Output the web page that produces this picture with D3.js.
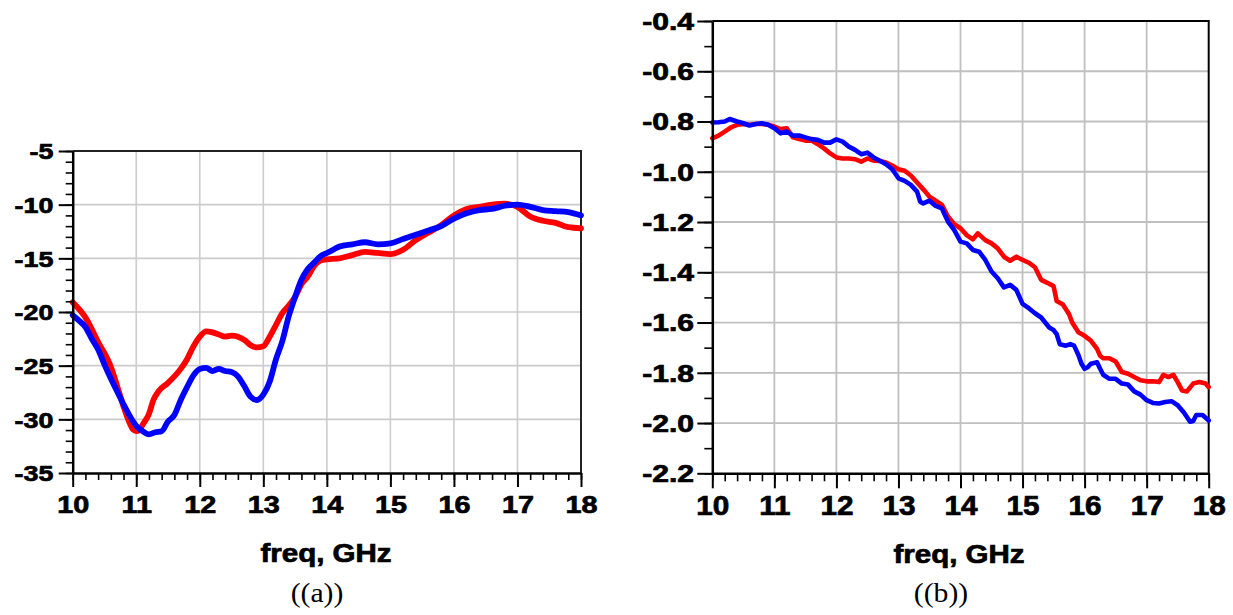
<!DOCTYPE html>
<html>
<head>
<meta charset="utf-8">
<script src="https://cdn.jsdelivr.net/npm/d3@7"></script>
<style>
  body { margin: 0; background: #fff; }
  svg text { font-family: "Liberation Sans", Arial, sans-serif; font-weight: bold; fill: #000; stroke: #000; stroke-width: 0.7px; }
  svg text.caption { font-family: "Liberation Serif", "DejaVu Serif", serif; font-weight: normal; stroke: none; }
</style>
</head>
<body>
<svg id="fig" width="1233" height="615"></svg>
<script>
// ---- panel (a): return loss, dB ----
const aRedFreq = [10.0, 10.2, 10.4, 10.6, 10.7, 10.8, 10.9, 10.95, 11.0, 11.05, 11.1, 11.2, 11.27, 11.35, 11.5, 11.6, 11.7, 11.8, 11.9, 12.0, 12.1, 12.2, 12.3, 12.4, 12.5, 12.6, 12.7, 12.8, 12.9, 13.0, 13.1, 13.2, 13.3, 13.4, 13.5, 13.6, 13.7, 13.8, 13.9, 14.0, 14.2, 14.4, 14.6, 14.8, 15.0, 15.2, 15.4, 15.6, 15.8, 16.0, 16.2, 16.4, 16.6, 16.8, 17.0, 17.2, 17.4, 17.6, 17.8, 18.0];
const aRedVal  = [-19.1, -20.5, -22.8, -25.1, -26.9, -28.8, -30.4, -30.95, -31.1, -31.0, -30.5, -29.5, -28.2, -27.4, -26.6, -26.0, -25.3, -24.4, -23.2, -22.3, -21.8, -21.9, -22.1, -22.3, -22.2, -22.3, -22.6, -23.1, -23.3, -23.2, -22.3, -21.2, -20.1, -19.4, -18.6, -17.4, -16.7, -15.7, -15.2, -15.1, -15.0, -14.7, -14.4, -14.5, -14.6, -14.2, -13.3, -12.6, -11.9, -11.0, -10.4, -10.2, -10.0, -9.9, -10.2, -11.1, -11.5, -11.7, -12.1, -12.2];
const aBlueFreq = [10.0, 10.1, 10.2, 10.3, 10.4, 10.5, 10.6, 10.7, 10.8, 10.9, 11.0, 11.1, 11.2, 11.3, 11.4, 11.5, 11.6, 11.7, 11.8, 11.9, 12.0, 12.1, 12.2, 12.3, 12.4, 12.5, 12.6, 12.7, 12.8, 12.9, 13.0, 13.1, 13.2, 13.3, 13.4, 13.5, 13.6, 13.7, 13.8, 13.9, 14.0, 14.1, 14.2, 14.4, 14.6, 14.8, 15.0, 15.2, 15.4, 15.6, 15.8, 16.0, 16.2, 16.4, 16.6, 16.8, 17.0, 17.2, 17.4, 17.6, 17.8, 18.0];
const aBlueVal  = [-20.3, -20.8, -21.4, -22.5, -23.5, -24.9, -26.2, -27.4, -28.6, -29.7, -30.6, -31.1, -31.4, -31.2, -31.1, -30.2, -29.6, -28.2, -27.0, -25.9, -25.3, -25.2, -25.5, -25.3, -25.5, -25.6, -26.0, -26.9, -27.9, -28.2, -27.7, -26.5, -24.4, -22.7, -20.4, -18.6, -17.0, -16.0, -15.4, -14.8, -14.5, -14.2, -13.9, -13.7, -13.5, -13.7, -13.6, -13.2, -12.8, -12.4, -12.0, -11.3, -10.8, -10.5, -10.4, -10.1, -10.0, -10.2, -10.5, -10.6, -10.7, -11.0];
const aYTicks = [-35, -30, -25, -20, -15, -10, -5];

// ---- panel (b): insertion loss, dB ----
const bRedFreq = [10.0, 10.1, 10.2, 10.3, 10.4, 10.5, 10.6, 10.7, 10.8, 10.9, 11.0, 11.1, 11.2, 11.3, 11.4, 11.5, 11.6, 11.7, 11.8, 11.9, 12.0, 12.1, 12.2, 12.3, 12.4, 12.5, 12.6, 12.7, 12.8, 12.9, 13.0, 13.1, 13.2, 13.3, 13.4, 13.5, 13.6, 13.7, 13.8, 13.9, 14.0, 14.1, 14.2, 14.28, 14.4, 14.5, 14.6, 14.7, 14.8, 14.9, 15.0, 15.1, 15.2, 15.3, 15.4, 15.5, 15.55, 15.65, 15.75, 15.8, 15.9, 16.0, 16.1, 16.2, 16.25, 16.3, 16.4, 16.5, 16.6, 16.7, 16.8, 16.9, 17.0, 17.1, 17.2, 17.27, 17.35, 17.43, 17.5, 17.57, 17.65, 17.75, 17.85, 17.95, 18.0];
const bRedVal  = [-0.867, -0.856, -0.84, -0.823, -0.813, -0.81, -0.813, -0.81, -0.81, -0.813, -0.82, -0.83, -0.827, -0.863, -0.87, -0.876, -0.876, -0.89, -0.907, -0.927, -0.943, -0.947, -0.947, -0.95, -0.96, -0.947, -0.956, -0.957, -0.963, -0.975, -0.99, -0.996, -1.015, -1.043, -1.07, -1.099, -1.115, -1.132, -1.179, -1.209, -1.225, -1.252, -1.269, -1.245, -1.272, -1.285, -1.305, -1.338, -1.354, -1.338, -1.351, -1.362, -1.38, -1.43, -1.442, -1.455, -1.514, -1.528, -1.567, -1.6, -1.639, -1.653, -1.672, -1.705, -1.732, -1.742, -1.742, -1.755, -1.797, -1.804, -1.817, -1.83, -1.834, -1.834, -1.837, -1.808, -1.817, -1.808, -1.837, -1.87, -1.874, -1.843, -1.837, -1.843, -1.857];
const bBlueFreq = [10.0, 10.1, 10.2, 10.28, 10.4, 10.5, 10.6, 10.7, 10.8, 10.9, 11.0, 11.1, 11.2, 11.3, 11.4, 11.5, 11.6, 11.7, 11.8, 11.9, 12.0, 12.1, 12.2, 12.3, 12.4, 12.5, 12.6, 12.7, 12.8, 12.9, 13.0, 13.1, 13.2, 13.3, 13.35, 13.4, 13.5, 13.6, 13.7, 13.8, 13.9, 14.0, 14.1, 14.2, 14.3, 14.4, 14.5, 14.6, 14.7, 14.8, 14.9, 15.0, 15.1, 15.2, 15.3, 15.43, 15.5, 15.55, 15.6, 15.7, 15.77, 15.83, 15.9, 15.95, 16.0, 16.05, 16.1, 16.2, 16.25, 16.3, 16.4, 16.5, 16.6, 16.7, 16.8, 16.9, 17.0, 17.1, 17.2, 17.3, 17.4, 17.5, 17.6, 17.7, 17.75, 17.8, 17.9, 18.0];
const bBlueVal  = [-0.804, -0.803, -0.80, -0.79, -0.80, -0.807, -0.816, -0.81, -0.807, -0.813, -0.827, -0.847, -0.84, -0.856, -0.856, -0.863, -0.87, -0.873, -0.884, -0.884, -0.871, -0.88, -0.90, -0.913, -0.93, -0.924, -0.943, -0.956, -0.97, -0.99, -1.026, -1.036, -1.052, -1.079, -1.119, -1.126, -1.115, -1.136, -1.146, -1.199, -1.232, -1.278, -1.285, -1.311, -1.318, -1.351, -1.397, -1.424, -1.46, -1.45, -1.47, -1.526, -1.543, -1.563, -1.58, -1.62, -1.63, -1.646, -1.686, -1.692, -1.686, -1.692, -1.729, -1.764, -1.784, -1.778, -1.764, -1.758, -1.784, -1.808, -1.824, -1.824, -1.843, -1.847, -1.874, -1.887, -1.909, -1.92, -1.922, -1.916, -1.913, -1.929, -1.958, -1.995, -1.992, -1.968, -1.968, -1.99];
const bYTicks = [-2.2, -2.0, -1.8, -1.6, -1.4, -1.2, -1.0, -0.8, -0.6, -0.4];

const xTicks = [10, 11, 12, 13, 14, 15, 16, 17, 18];
const xLabel = "freq, GHz";
const captions = ["((a))", "((b))"];

const svg = d3.select("#fig");
const zip = (fx, fv) => fx.map((f, i) => ({ f, v: fv[i] }));

function drawPanel(p) {
  const x = d3.scaleLinear().domain([10, 18]).range([p.left, p.right]);
  const y = d3.scaleLinear().domain([p.yTicks[0], p.yTicks[p.yTicks.length - 1]]).range([p.bottom, p.top]);
  const g = svg.append("g");

  // grid
  g.append("g").selectAll("line").data(xTicks.slice(1, -1)).join("line")
    .attr("x1", d => x(d)).attr("x2", d => x(d)).attr("y1", p.top).attr("y2", p.bottom)
    .attr("stroke", p.grid).attr("stroke-width", p.gridW);
  g.append("g").selectAll("line").data(p.yTicks.slice(1, -1)).join("line")
    .attr("x1", p.left).attr("x2", p.right).attr("y1", d => y(d)).attr("y2", d => y(d))
    .attr("stroke", p.grid).attr("stroke-width", p.gridW);

  // frame (top & right)
  g.append("path")
    .attr("d", `M${p.left},${p.top}H${p.right}V${p.bottom}`)
    .attr("fill", "none").attr("stroke", p.frame).attr("stroke-width", 2);

  // traces
  const line = d3.line().x(d => x(d.f)).y(d => y(d.v)).curve(p.curve);
  p.series.forEach(s => {
    g.append("path").datum(zip(s.f, s.v))
      .attr("d", line).attr("fill", "none").attr("stroke", s.color)
      .attr("stroke-width", p.lineW).attr("stroke-linejoin", "round").attr("stroke-linecap", "round");
  });

  // minor ticks
  g.append("g").attr("transform", `translate(0,${p.bottom})`)
    .call(d3.axisBottom(x).tickValues(d3.range(10, 18.001, 0.2)).tickSize(p.minorLen).tickFormat("").tickSizeOuter(0))
    .call(a => a.select(".domain").remove())
    .call(a => a.selectAll("line").attr("stroke", "#000").attr("stroke-width", 1.6));
  g.append("g").attr("transform", `translate(${p.left},0)`)
    .call(d3.axisLeft(y).tickValues(p.yMinor).tickSize(p.minorLen).tickFormat("").tickSizeOuter(0))
    .call(a => a.select(".domain").remove())
    .call(a => a.selectAll("line").attr("stroke", "#000").attr("stroke-width", 1.6));

  // major axes
  g.append("g").attr("transform", `translate(0,${p.bottom})`)
    .call(d3.axisBottom(x).tickValues(xTicks).tickSize(p.majorLen).tickSizeOuter(0).tickFormat(d => String(d)))
    .call(a => a.select(".domain").attr("stroke", "#000").attr("stroke-width", 2.5))
    .call(a => a.selectAll("line").attr("stroke", "#000").attr("stroke-width", 2))
    .call(a => a.selectAll("text").attr("y", p.xLabBase).attr("dy", 0)
      .style("font-size", p.xFont + "px").attr("transform", `scale(${p.xSx},1)`));
  g.append("g").attr("transform", `translate(${p.left},0)`)
    .call(d3.axisLeft(y).tickValues(p.yTicks).tickSize(p.majorLen).tickSizeOuter(0).tickFormat(p.yFmt))
    .call(a => a.select(".domain").attr("stroke", "#000").attr("stroke-width", 2.5))
    .call(a => a.selectAll("line").attr("stroke", "#000").attr("stroke-width", 2))
    .call(a => a.selectAll("text").attr("x", -p.yPad / p.ySx).attr("dy", "0.36em")
      .style("font-size", p.yFont + "px").attr("transform", `scale(${p.ySx},1)`));

  // axis title & caption
  g.append("text").attr("transform", `translate(${p.titleX},${p.titleY}) scale(1.18,1)`)
    .attr("text-anchor", "middle").style("font-size", "25px").text(xLabel);
  g.append("text").attr("class", "caption")
    .attr("transform", `translate(${p.capX},${p.capY}) scale(1.1,1)`)
    .attr("text-anchor", "middle").style("font-size", "27px").text(p.caption);
}

drawPanel({
  left: 72.7, right: 581, top: 151, bottom: 473,
  yTicks: aYTicks, yMinor: d3.range(-35, -4.999, 1), yFmt: d => String(d),
  grid: "#cccccc", gridW: 1.6, frame: "#222", lineW: 5.8, curve: d3.curveMonotoneX,
  majorLen: 14, minorLen: 7,
  xFont: 24, xSx: 1.2, xLabBase: 40,
  yFont: 22, ySx: 1.22, yPad: 19.4,
  titleX: 326, titleY: 562, capX: 317, capY: 602, caption: captions[0],
  series: [
    { f: aRedFreq, v: aRedVal, color: "#ff0000" },
    { f: aBlueFreq, v: aBlueVal, color: "#0000ff" }
  ]
});

drawPanel({
  left: 712.3, right: 1208.7, top: 21, bottom: 473.3,
  yTicks: bYTicks, yMinor: d3.range(-2.2, -0.399, 0.1), yFmt: d => d.toFixed(1),
  grid: "#c0c0c0", gridW: 1.8, frame: "#000", lineW: 4.6, curve: d3.curveLinear,
  majorLen: 15, minorLen: 8,
  xFont: 27, xSx: 1.1, xLabBase: 42,
  yFont: 23.5, ySx: 1.28, yPad: 18.3,
  titleX: 959, titleY: 563, capX: 941, capY: 602, caption: captions[1],
  series: [
    { f: bRedFreq, v: bRedVal, color: "#ff0000" },
    { f: bBlueFreq, v: bBlueVal, color: "#0000ff" }
  ]
});
</script>
</body>
</html>
